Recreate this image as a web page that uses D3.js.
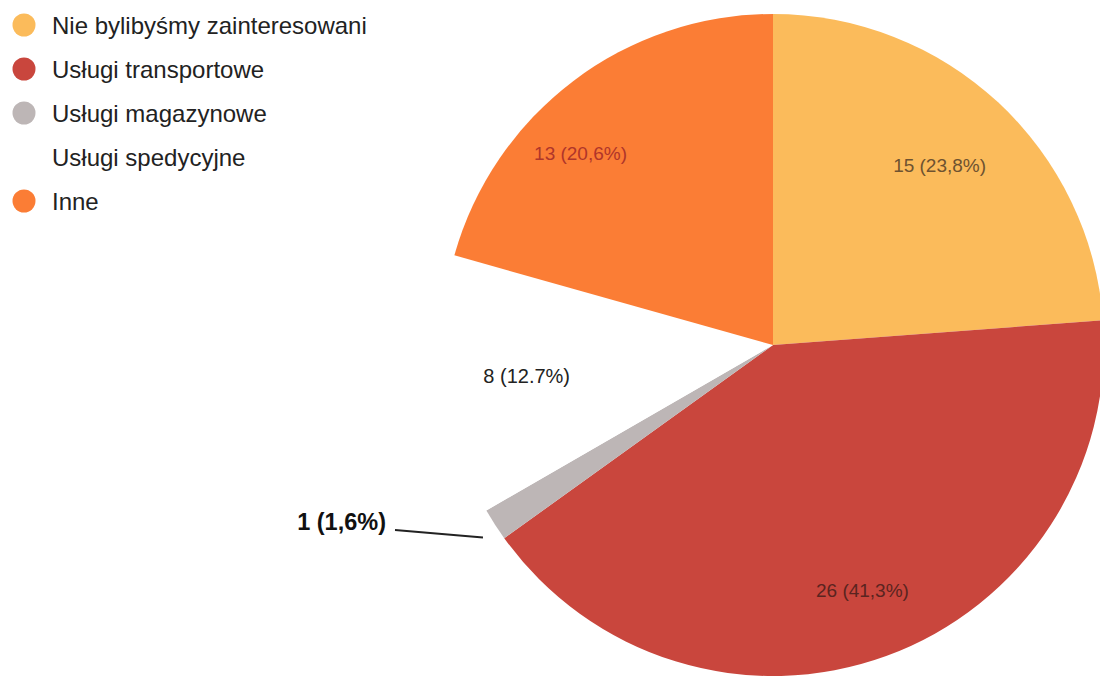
<!DOCTYPE html>
<html>
<head>
<meta charset="utf-8">
<script src="https://cdn.jsdelivr.net/npm/d3@7"></script>
<style>
  html, body { margin: 0; padding: 0; background: #fff; }
  svg { display: block; }
</style>
</head>
<body>
<svg id="chart" width="1100" height="677"></svg>
<script>
// Survey answers
const categories = [
  "Nie bylibyśmy zainteresowani",
  "Usługi transportowe",
  "Usługi magazynowe",
  "Usługi spedycyjne",
  "Inne"
];
const values = [15, 26, 1, 8, 13];
const sliceLabels = ["15 (23,8%)", "26 (41,3%)", "1 (1,6%)", "8 (12.7%)", "13 (20,6%)"];
const colors = ["#fbbb5b", "#c9463d", "#bdb6b6", "#ffffff", "#fb7d35"];
const labelColors = ["#6e5230", "#5a2420", "#111111", "#222222", "#b0352a"];

const svg = d3.select("#chart");
const cx = 773, cy = 345, radius = 331;
const font = "Arial, 'Liberation Sans', sans-serif";

const pie = d3.pie().sort(null).value(d => d.value);
const arc = d3.arc().innerRadius(0).outerRadius(radius);

const data = categories.map((c, i) => ({ name: c, value: values[i], i }));
const arcs = pie(data);

const g = svg.append("g").attr("transform", `translate(${cx},${cy})`);

g.selectAll("path.slice")
  .data(arcs)
  .join("path")
  .attr("class", "slice")
  .attr("d", arc)
  .attr("fill", d => colors[d.data.i]);

// Labels inside the slices: radial distance (fraction of radius) and angular nudge (rad)
const labelRadius = [0.74, 0.79, 0.7, 0.75, 0.82];
const labelNudge = [0, 0, 0, 0, -0.14];
const labelSize = [19, 19, 24, 20, 19];
g.selectAll("text.inside")
  .data(arcs.filter(d => d.data.i !== 2))
  .join("text")
  .attr("class", "inside")
  .attr("transform", d => {
    const a = (d.startAngle + d.endAngle) / 2 + labelNudge[d.data.i];
    const r = radius * labelRadius[d.data.i];
    return `translate(${Math.sin(a) * r},${-Math.cos(a) * r})`;
  })
  .attr("text-anchor", "middle")
  .attr("dy", "0.35em")
  .attr("font-family", font)
  .attr("font-size", d => labelSize[d.data.i])
  .attr("fill", d => labelColors[d.data.i])
  .text(d => sliceLabels[d.data.i]);

// Callout for the thin grey slice
const small = arcs[2];
const mid = (small.startAngle + small.endAngle) / 2;
const edge = [Math.sin(mid) * radius, -Math.cos(mid) * radius];
const tip = [edge[0] - 12, edge[1] + 13];
g.append("line")
  .attr("x1", tip[0]).attr("y1", tip[1])
  .attr("x2", 395 - cx).attr("y2", 530 - cy)
  .attr("stroke", "#222").attr("stroke-width", 2);
g.append("text")
  .attr("x", 386 - cx).attr("y", 530 - cy)
  .attr("text-anchor", "end")
  .attr("font-family", font)
  .attr("font-size", 23.5)
  .attr("font-weight", "bold")
  .attr("fill", "#111")
  .text(sliceLabels[2]);

// Legend
const legend = svg.append("g");
const rows = legend.selectAll("g.row")
  .data(data)
  .join("g")
  .attr("class", "row")
  .attr("transform", (d, i) => `translate(24,${25 + i * 44})`);
rows.append("circle")
  .attr("r", 11.5)
  .attr("fill", d => colors[d.i]);
rows.append("text")
  .attr("x", 28)
  .attr("dy", "0.36em")
  .attr("font-family", font)
  .attr("font-size", 24)
  .attr("fill", "#222")
  .text(d => d.name);
</script>
</body>
</html>
